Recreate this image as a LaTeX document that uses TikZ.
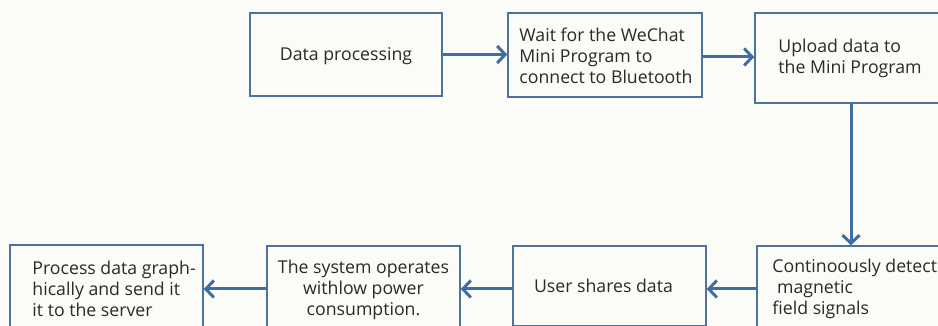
\documentclass[tikz,border=0pt]{standalone}
\usepackage{fontspec}
\setmainfont{Open Sans}
\usetikzlibrary{arrows.meta,calc}
\definecolor{bgc}{HTML}{FBFBF8}
\definecolor{boxc}{HTML}{4C72A0}
\definecolor{arrc}{HTML}{3F6DA5}
\definecolor{txtc}{HTML}{2A2A2A}
\tikzset{
  box/.style={draw=boxc, line width=1.5pt, rectangle, text=txtc,
    font=\fontsize{17.7}{21}\selectfont},
  lbl/.style={anchor=west, inner sep=0pt, text=txtc, align=left,
    font=\fontsize{17.7}{21}\selectfont},
  flow/.style={draw=arrc, line width=3pt,
    -{Straight Barb[length=8pt,width=17pt,line width=3pt]}}
}
\begin{document}
\begin{tikzpicture}[x=1pt,y=1pt]
\useasboundingbox (0,0) rectangle (938,326);
\fill[bgc] (0,0) rectangle (938,326);
\clip (0,0) rectangle (938,326);
% top row (y_tikz = 326 - y_px)
\node[box, minimum width=192pt, minimum height=83pt] (b1) at (346,271.5) {};
\node[lbl, anchor=center] (t1) at ([yshift=-2pt]b1.center) {Data processing};
\node[box, minimum width=194pt, minimum height=84pt] (b2) at (605,271) {};
\node[lbl] (t2) at ([xshift=12pt,yshift=-1pt]b2.west) {Wait for the WeChat\\Mini Program to\\connect to Bluetooth};
\node[box, minimum width=205pt, minimum height=90pt] (b3) at (857.5,268) {};
\node[lbl] (t3) at ([xshift=24pt]b3.west) {Upload data to\\the Mini Program};
% bottom row
\node[box, minimum width=203pt, minimum height=86pt] (b4) at (858.5,37) {};
\node[lbl] (t4) at ([xshift=16pt]b4.west) {Continoously detect\\\ magnetic\\field signals};
\node[box, minimum width=193pt, minimum height=80pt] (b5) at (609.5,40) {};
\node[lbl, anchor=center] (t5) at ([xshift=-6pt]b5.center) {User shares data};
\node[box, minimum width=193pt, minimum height=88pt] (b6) at (363.5,36) {};
\node[lbl, anchor=center, align=center] (t6) at (b6.center) {The system operates\\withlow power\\consumption.};
\node[box, minimum width=193pt, minimum height=88pt] (b7) at (106.5,37) {};
\node[lbl] (t7) at ([xshift=23pt]b7.west) {Process data graph-\\hically and send it\\it to the server};
% connectors
\draw[flow] (b1.east) -- (b1.east -| b2.west);
\draw[flow] ([yshift=-2pt]b2.east) -- ([yshift=-2pt]b2.east -| b3.west);
\draw[flow] ([xshift=-6.5pt]b3.south) -- ([xshift=-7.5pt]b4.north);
\draw[flow] (b4.west) -- (b4.west -| b5.east);
\draw[flow] (b4.west -| b5.west) -- (b4.west -| b6.east);
\draw[flow] (b4.west -| b6.west) -- (b4.west -| b7.east);
\end{tikzpicture}
\end{document}
